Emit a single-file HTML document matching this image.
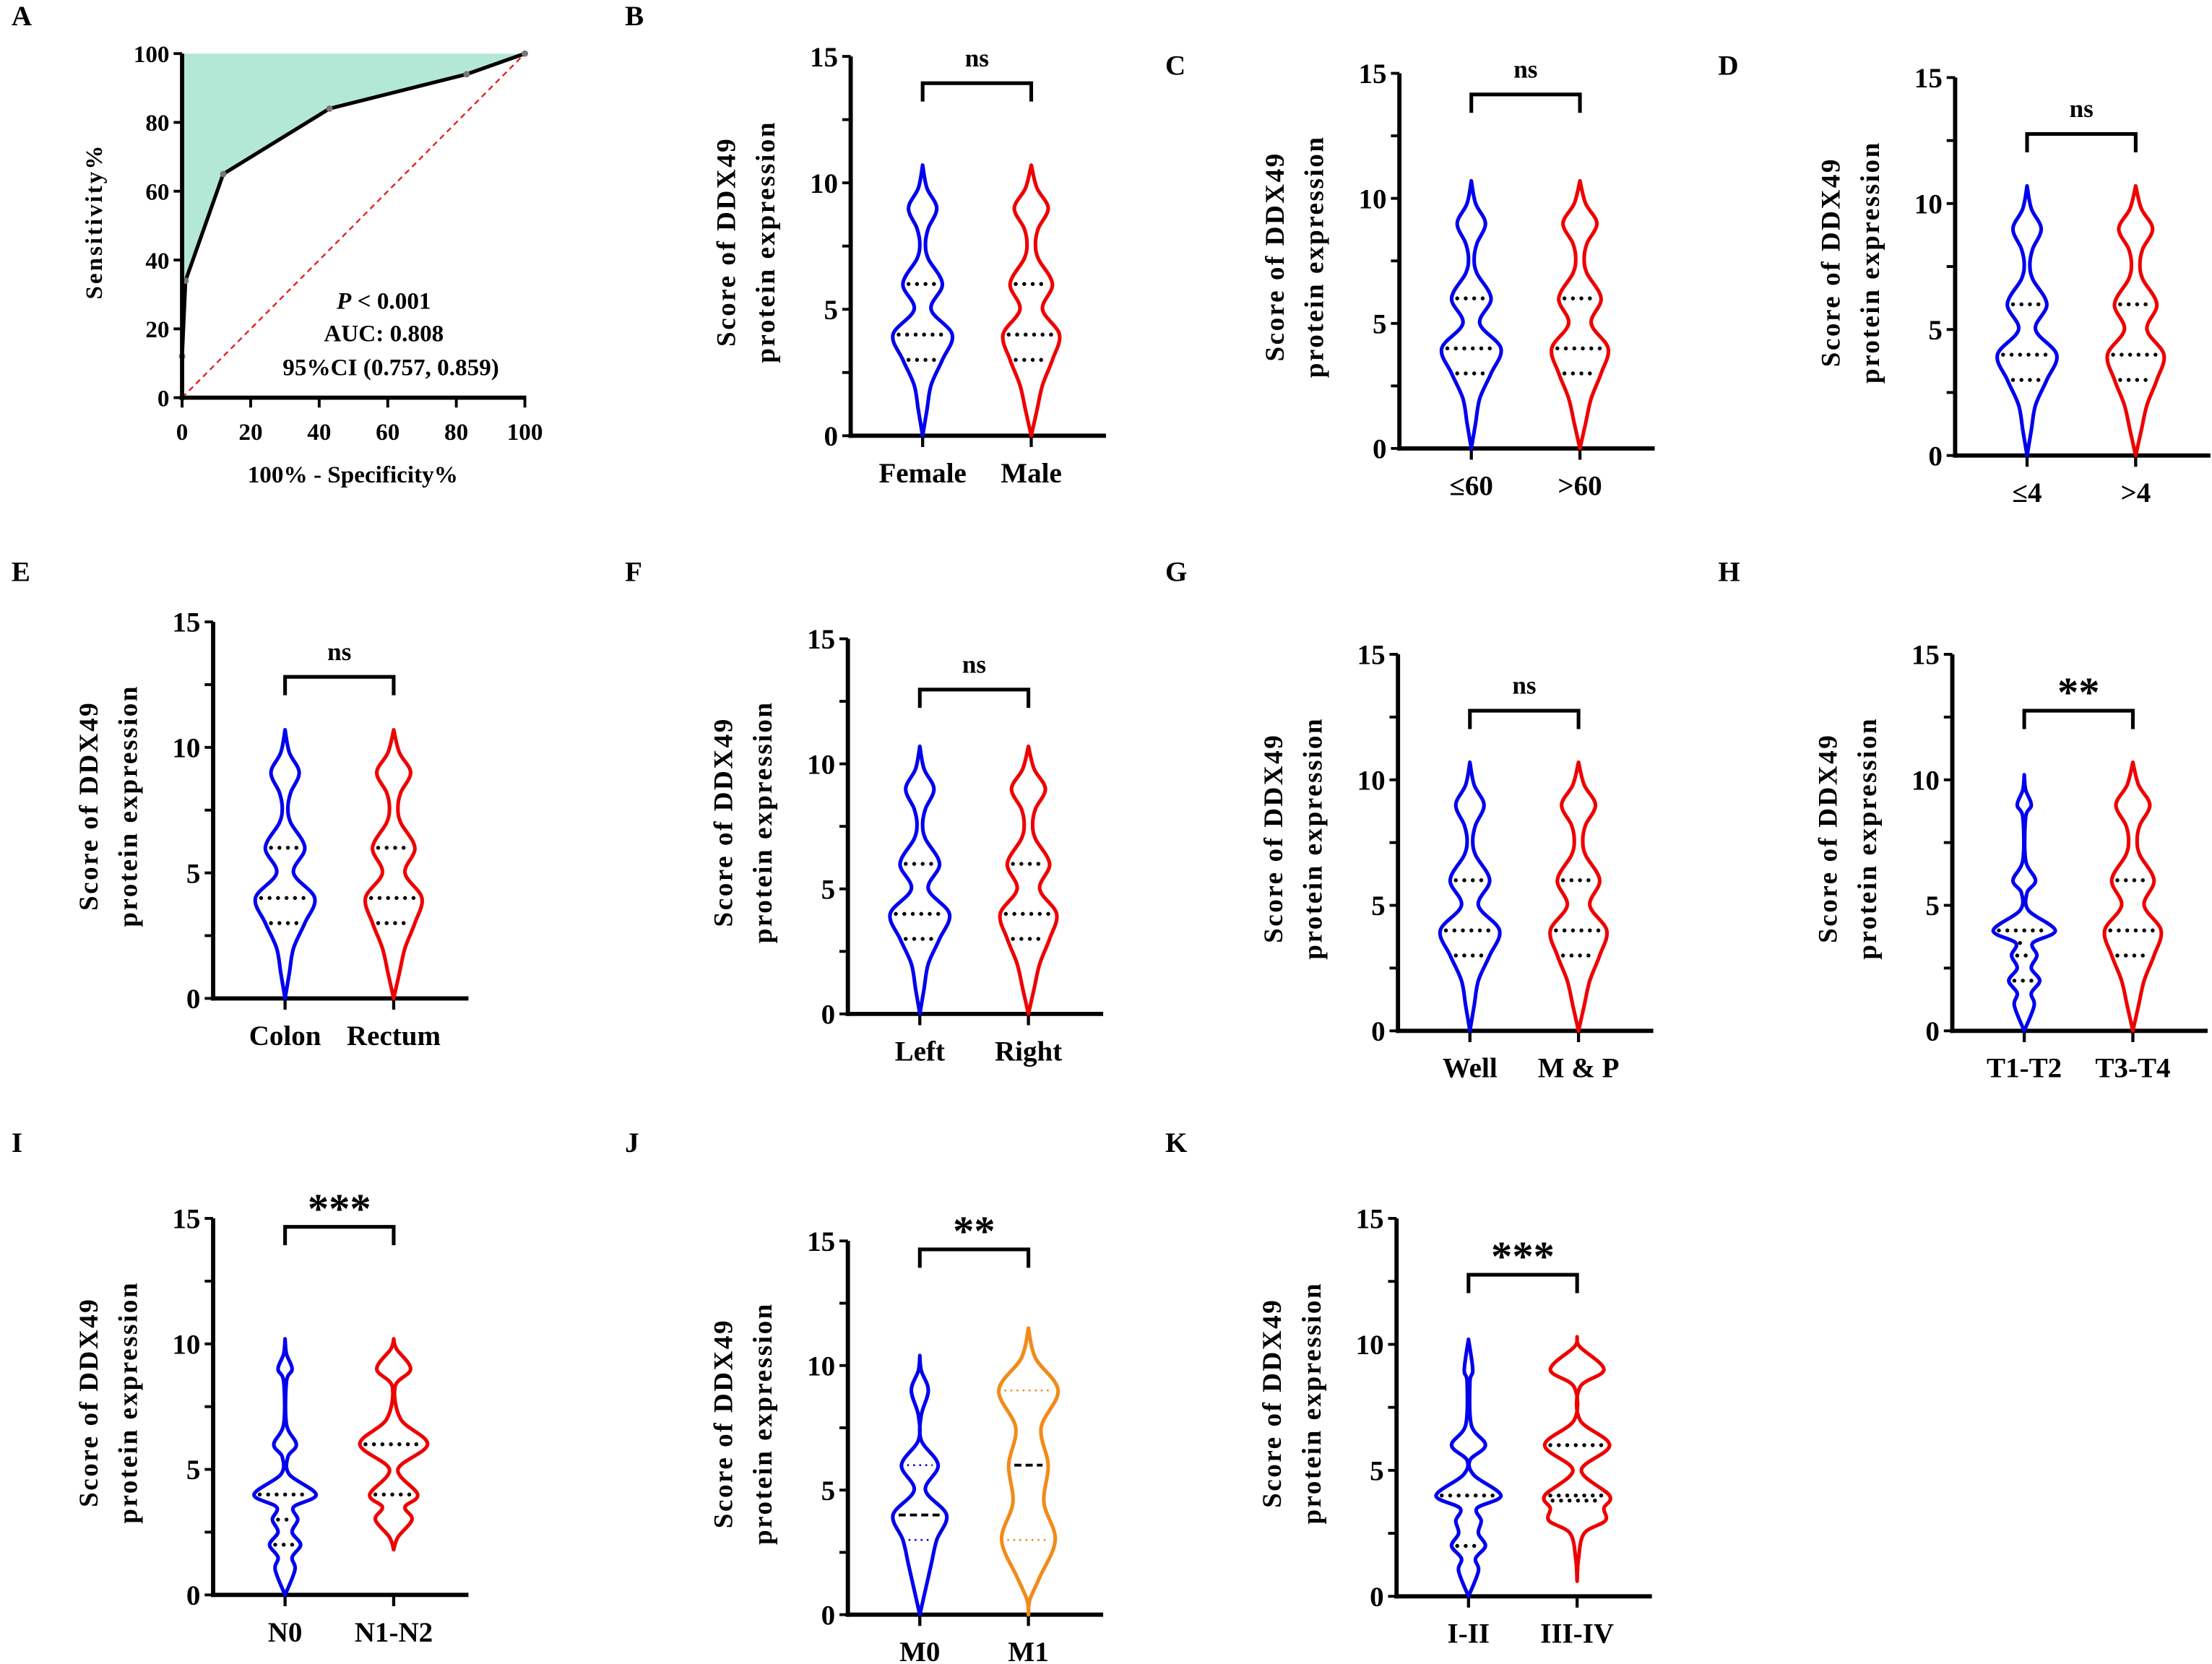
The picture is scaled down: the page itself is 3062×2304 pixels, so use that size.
<!DOCTYPE html>
<html><head><meta charset="utf-8"><style>
html,body{margin:0;padding:0;background:#fff;}
svg{display:block;}
text{font-family:"Liberation Serif","DejaVu Serif",serif;font-weight:bold;fill:#000;}
</style></head><body>
<svg id="fig" xmlns="http://www.w3.org/2000/svg" width="3062" height="2304" viewBox="0 0 1568 1180"></svg>
<script>
// ROC data
const rocFpr = [0, 0, 1, 12, 43, 83, 100];
const rocTpr = [0, 12, 34, 65, 84, 94, 100];
const rocTicks = [0, 20, 40, 60, 80, 100];
const yTicks = [0, 5, 10, 15];
// Violin panels
const panelLetters = ['B','C','D','E','F','G','H','I','J','K'];
const groupLabels = [['Female','Male'],['≤60','>60'],['≤4','>4'],['Colon','Rectum'],['Left','Right'],['Well','M & P'],['T1-T2','T3-T4'],['N0','N1-N2'],['M0','M1'],['I-II','III-IV']];
const sigLabels = ['ns','ns','ns','ns','ns','ns','**','***','**','***'];
// density profiles: [score, half-width]
const profStd = [[0,0],[1,3],[2,6],[3,14],[4,21],[5,6],[6,14],[7,4],[7.6,2],[8.2,4],[9,10],[9.8,3],[10.7,0]];
const profStd2 = [[0,0],[1,4],[2,8],[3,15],[4,20],[5,8],[6,15],[7,5],[7.6,3],[8.2,5],[9,12],[9.8,4],[10.7,0]];
const profN0 = [[0,0],[1,7],[1.5,5],[2,11],[2.5,5],[3,9],[3.5,6],[4,22],[4.8,3],[5.5,2],[6,8],[6.8,1],[8.5,1],[9,5],[9.6,1],[10.2,0]];
const profN1 = [[1.8,0],[2.3,3],[3,13],[3.5,8],[4,17],[5,3],[6,24],[7,5],[8.3,1],[9,12],[9.8,2],[10.2,0]];
const profM0 = [[0,0],[1,4],[2,8],[3,12],[4,19],[5,4],[6,13],[7,1],[8,1],[9,6],[9.8,1],[10.4,0]];
const profM1 = [[0,0],[0.6,1],[1.5,8],[3,19],[4.5,11],[6,14],[7.5,9],[9,21],[10.3,5],[11.5,0]];
const profK0 = [[0,0],[1,7],[1.5,5],[2,12],[2.5,7],[3,9],[3.5,6],[4,23],[4.8,4],[5.4,1],[6,12],[6.8,2],[8.5,1],[9,3],[10.2,0]];
const profK1 = [[0.6,0],[1.5,1],[2.5,5],[3,20],[3.5,19],[4,23],[5,3],[6,23],[7,2],[8.3,2],[9,19],[9.9,2],[10.3,0]];
const leftProfiles = [profStd,profStd,profStd,profStd,profStd,profStd,profN0,profN0,profM0,profK0];
const rightProfiles = [profStd2,profStd2,profStd2,profStd2,profStd2,profStd2,profStd2,profN1,profM1,profK1];
const leftLines = [[3,4,6],[3,4,6],[3,4,6],[3,4,6],[3,4,6],[3,4,6],[2,3,3.5,4],[2,3,4],[3,4,6],[2,4]];
const rightLines = [[3,4,6],[3,4,6],[3,4,6],[3,4,6],[3,4,6],[3,4,6],[3,4,6],[4,6],[3,6,9],[3.8,4,6]];
const leftColors = ['#0000ee','#0000ee','#0000ee','#0000ee','#0000ee','#0000ee','#0000ee','#0000ee','#0000ee','#0000ee'];
const rightColors = ['#ee0000','#ee0000','#ee0000','#ee0000','#ee0000','#ee0000','#ee0000','#ee0000','#f28a1a','#ee0000'];
// layout (presentation)
const axX = [603,992,1386,151,601,991,1384,151,601,990];
const axTop = [40,52,55,441,453,464,464,864,880,864];
const axBot = [309,318,323,708,719,731,731,1131,1145,1132];
const bracketY = [59,67,95,480,489,504,504,870,886,904];
const letterPos = [[443,18],[826,53],[1218,53],[8,412],[443,412],[826,412],[1218,412],[8,817],[443,817],[826,817]];

const NS='http://www.w3.org/2000/svg';
const svg=document.getElementById('fig');
function mk(tag,attrs,parent,txt){const e=document.createElementNS(NS,tag);for(const k in attrs)e.setAttribute(k,attrs[k]);if(txt!==undefined)e.textContent=txt;(parent||svg).appendChild(e);return e;}

function smoothPath(pts){ // catmull-rom
  let d='M'+pts[0][0]+','+pts[0][1];
  for(let i=0;i<pts.length-1;i++){
    const p0=pts[Math.max(0,i-1)],p1=pts[i],p2=pts[i+1],p3=pts[Math.min(pts.length-1,i+2)];
    const c1=[p1[0]+(p2[0]-p0[0])/6,p1[1]+(p2[1]-p0[1])/6];
    const c2=[p2[0]-(p3[0]-p1[0])/6,p2[1]-(p3[1]-p1[1])/6];
    d+=' C'+c1[0].toFixed(2)+','+c1[1].toFixed(2)+' '+c2[0].toFixed(2)+','+c2[1].toFixed(2)+' '+p2[0].toFixed(2)+','+p2[1].toFixed(2);
  }
  return d;
}
function widthAt(prof,v){
  for(let i=0;i<prof.length-1;i++){if(v>=prof[i][0]&&v<=prof[i+1][0]){const t=(v-prof[i][0])/(prof[i+1][0]-prof[i][0]);return prof[i][1]+t*(prof[i+1][1]-prof[i][1]);}}
  return 0;
}

// ---- Panel A (ROC)
(function(){
  const g=mk('g',{});
  
  
  const x0=129,x1=372,y0=282,y1=38;
  const sx=v=>x0+(x1-x0)*v/100, sy=v=>y0-(y0-y1)*v/100;
  let poly=rocFpr.map((f,i)=>sx(f)+','+sy(rocTpr[i])).join(' ')+' '+sx(0)+','+sy(100);
  const area=mk('polygon',{points:poly,fill:'#b4e8d6',stroke:'none'},g);
  
  
  const diag=mk('line',{x1:sx(0),y1:sy(0),x2:sx(100),y2:sy(100),stroke:'#e02020','stroke-width':1.2,'stroke-dasharray':'4,3'},g);
  
  
  const curve=mk('polyline',{points:rocFpr.map((f,i)=>sx(f)+','+sy(rocTpr[i])).join(' '),fill:'none',stroke:'#000','stroke-width':2.6},g);
  
  
  rocFpr.forEach((f,i)=>{const c=mk('circle',{cx:sx(f),cy:sy(rocTpr[i]),r:2.3,fill:'#777'},g);
    
    });
  mk('line',{x1:x0,y1:y1,x2:x0,y2:y0+1.5,stroke:'#000','stroke-width':3},g);
  mk('line',{x1:x0-1.5,y1:y0,x2:x1+1,y2:y0,stroke:'#000','stroke-width':3},g);
  rocTicks.forEach(t=>{
    mk('line',{x1:x0-6,y1:sy(t),x2:x0,y2:sy(t),stroke:'#000','stroke-width':2},g);
    const yl=mk('text',{x:x0-9,y:sy(t)+6,'font-size':17,'text-anchor':'end'},g,String(t));
    
    
    mk('line',{x1:sx(t),y1:y0,x2:sx(t),y2:y0+7,stroke:'#000','stroke-width':2},g);
    const xl=mk('text',{x:sx(t),y:y0+30,'font-size':17,'text-anchor':'middle'},g,String(t));
    
    
  });
  const yt=mk('text',{x:0,y:0,'font-size':17,'letter-spacing':1.5,'text-anchor':'middle',transform:'translate(72,157) rotate(-90)'},g,'Sensitivity%');
  
  
  const xt=mk('text',{x:250,y:342,'font-size':17,'text-anchor':'middle'},g,'100% - Specificity%');
  
  
  const p=mk('text',{x:272,y:219,'font-size':17,'text-anchor':'middle'},g);
  
  
  mk('tspan',{'font-style':'italic'},p,'P');mk('tspan',{},p,' < 0.001');
  const a=mk('text',{x:272,y:242,'font-size':17,'text-anchor':'middle'},g,'AUC: 0.808');
  
  
  const ci=mk('text',{x:277,y:266,'font-size':17,'text-anchor':'middle'},g,'95%CI (0.757, 0.859)');
  
  
  const L=mk('text',{x:8,y:18,'font-size':20},g,'A');
  
  
})();

// ---- Violin panels
panelLetters.forEach((letter,pi)=>{
  const g=mk('g',{});
  
  
  const X=axX[pi],T=axTop[pi],B=axBot[pi];
  const sy=v=>B-(B-T)*v/15;
  const gx=[X+51,X+128];
  const L=mk('text',{x:letterPos[pi][0],y:letterPos[pi][1],'font-size':20},g,letter);
  
  
  // axes
  mk('line',{x1:X,y1:T,x2:X,y2:B+1.5,stroke:'#000','stroke-width':3},g);
  mk('line',{x1:X-1.5,y1:B,x2:X+181,y2:B,stroke:'#000','stroke-width':3},g);
  for(let v=0;v<=15;v+=2.5){
    mk('line',{x1:X-6,y1:sy(v),x2:X,y2:sy(v),stroke:'#000','stroke-width':2},g);
  }
  yTicks.forEach(t=>{
    const tl=mk('text',{x:X-9,y:sy(t)+7,'font-size':20,'text-anchor':'end'},g,String(t));
    
    
  });
  const cx=X-69, cy=(T+B)/2-3;
  const t1=mk('text',{x:0,y:0,'font-size':19,'letter-spacing':1.3,'text-anchor':'middle',transform:`translate(${cx-13},${cy}) rotate(-90)`},g,'Score of DDX49');
  
  
  const t2=mk('text',{x:0,y:0,'font-size':19,'letter-spacing':1.3,'text-anchor':'middle',transform:`translate(${cx+15},${cy}) rotate(-90)`},g,'protein expression');
  
  
  // groups
  [0,1].forEach(k=>{
    const prof=k?rightProfiles[pi]:leftProfiles[pi];
    const col=k?rightColors[pi]:leftColors[pi];
    const lines=k?rightLines[pi]:leftLines[pi];
    const c=gx[k];
    mk('line',{x1:c,y1:B,x2:c,y2:B+8,stroke:'#000','stroke-width':2.2},g);
    const cl=mk('text',{x:c,y:B+33,'font-size':20,'text-anchor':'middle'},g,groupLabels[pi][k]);
    
    
    const right=prof.map(p=>[c+p[1],sy(p[0])]);
    const left=prof.slice().reverse().map(p=>[c-p[1],sy(p[0])]);
    const d=smoothPath(right)+' '+smoothPath(left).replace('M','L')+' Z';
    const vp=mk('path',{d:d,fill:'none',stroke:col,'stroke-width':2.6,'stroke-linejoin':'round'},g);
    
    
    lines.forEach((v,li)=>{
      const w=Math.max(3,widthAt(prof,v)-4);
      const isJ=pi===8;
      const median=isJ&&li===1;
      let attrs;
      if(median) attrs={stroke:'#000','stroke-width':2,'stroke-dasharray':'5,3'};
      else if(isJ) attrs={stroke:col,'stroke-width':1.3,'stroke-dasharray':'1.3,3'};
      else attrs={stroke:'#000','stroke-width':2.8,'stroke-dasharray':'0.01,6','stroke-linecap':'round'};
      const ql=mk('line',Object.assign({x1:c-w,y1:sy(v),x2:c+w,y2:sy(v)},attrs),g);
      
      
    });
  });
  // significance bracket
  const by=bracketY[pi];
  const br=mk('polyline',{points:`${gx[0]},${by+13} ${gx[0]},${by} ${gx[1]},${by} ${gx[1]},${by+13}`,fill:'none',stroke:'#000','stroke-width':2.6},g);
  
  
  const star=sigLabels[pi]!=='ns';
  const sl=mk('text',{x:(gx[0]+gx[1])/2,y:star?by-3:by-12,'font-size':star?30:18,'text-anchor':'middle'},g,sigLabels[pi]);
  if(star)sl.setAttribute('font-family','"Liberation Sans",sans-serif');
  
  
});
</script>
</body></html>
